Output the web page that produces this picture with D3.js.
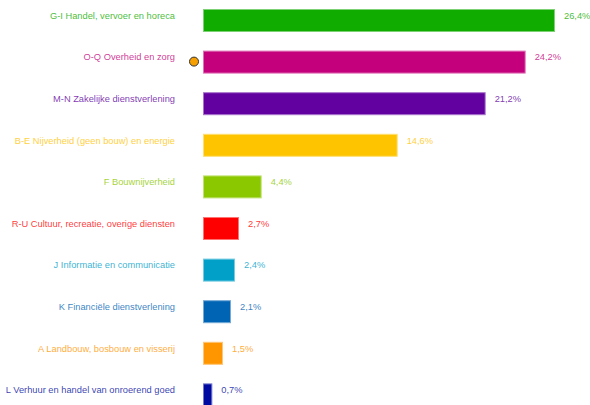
<!DOCTYPE html>
<html>
<head>
<meta charset="utf-8">
<script src="https://cdn.jsdelivr.net/npm/d3@7"></script>
<style>
body { margin: 0; background: #fff; }
text { font-family: "Liberation Sans", Arial, sans-serif; font-size: 9.3px; }
</style>
</head>
<body>
<script>
// chart data
var categories = [
	'G-I Handel, vervoer en horeca',
	'O-Q Overheid en zorg',
	'M-N Zakelijke dienstverlening',
	'B-E Nijverheid (geen bouw) en energie',
	'F Bouwnijverheid',
	'R-U Cultuur, recreatie, overige diensten',
	'J Informatie en communicatie',
	'K Financiële dienstverlening',
	'A Landbouw, bosbouw en visserij',
	'L Verhuur en handel van onroerend goed'
]
var values = [26.4, 24.2, 21.2, 14.6, 4.4, 2.7, 2.4, 2.1, 1.5, 0.7]
var colors = ['#10ad00', '#c5007c', '#6200a0', '#ffc400', '#8cc800', '#ff0000', '#00a0c8', '#0064b4', '#ff9600', '#000aa0']
var markerIndex = 1

var width = 590
var height = 405
var barLeft = 203
var step = 41.6
var barH = 23

var svg = d3.select('body')
	.append('svg')
		.attr('width', width)
		.attr('height', height)

var x = d3.scaleLinear()
	.domain([0, 26.4])
	.range([0, 352])

var y = d3.scaleBand()
	.domain(categories)
	.range([9, 9 + step * (categories.length - 1) + barH])
	.paddingInner((step - barH) / step)
	.paddingOuter(0)

var fmt = function(v) { return d3.format('.1f')(v).replace('.', ',') + '%' }

var rows = svg.selectAll('g.row')
		.data(categories)
	.enter().append('g')
		.attr('class', 'row')

// bars
rows.append('rect')
	.attr('x', barLeft + 0.5)
	.attr('y', function(d) { return y(d) + 0.5 })
	.attr('width', function(d, i) { return x(values[i]) - 1 })
	.attr('height', y.bandwidth() - 1)
	.style('fill', function(d, i) { return colors[i] })
	.style('stroke', function(d, i) { return d3.interpolateRgb(colors[i], '#fff')(0.45) })
	.style('stroke-width', 1)

// category labels
rows.append('text')
	.attr('x', 175)
	.attr('y', function(d) { return y(d) + 6.5 })
	.attr('dy', '0.35em')
	.attr('text-anchor', 'end')
	.style('fill', function(d, i) { return colors[i] })
	.style('fill-opacity', 0.8)
	.text(function(d) { return d })

// value labels
rows.append('text')
	.attr('x', function(d, i) { return barLeft + x(values[i]) + 9 })
	.attr('y', function(d) { return y(d) + 6.5 })
	.attr('dy', '0.35em')
	.style('fill', function(d, i) { return colors[i] })
	.style('fill-opacity', 0.8)
	.text(function(d, i) { return fmt(values[i]) })

// highlight marker
svg.append('circle')
	.attr('cx', 194)
	.attr('cy', y(categories[markerIndex]) + y.bandwidth() / 2 - 0.5)
	.attr('r', 4.5)
	.style('fill', '#f5a000')
	.style('stroke', '#333')
	.style('stroke-width', 1)
</script>
</body>
</html>
